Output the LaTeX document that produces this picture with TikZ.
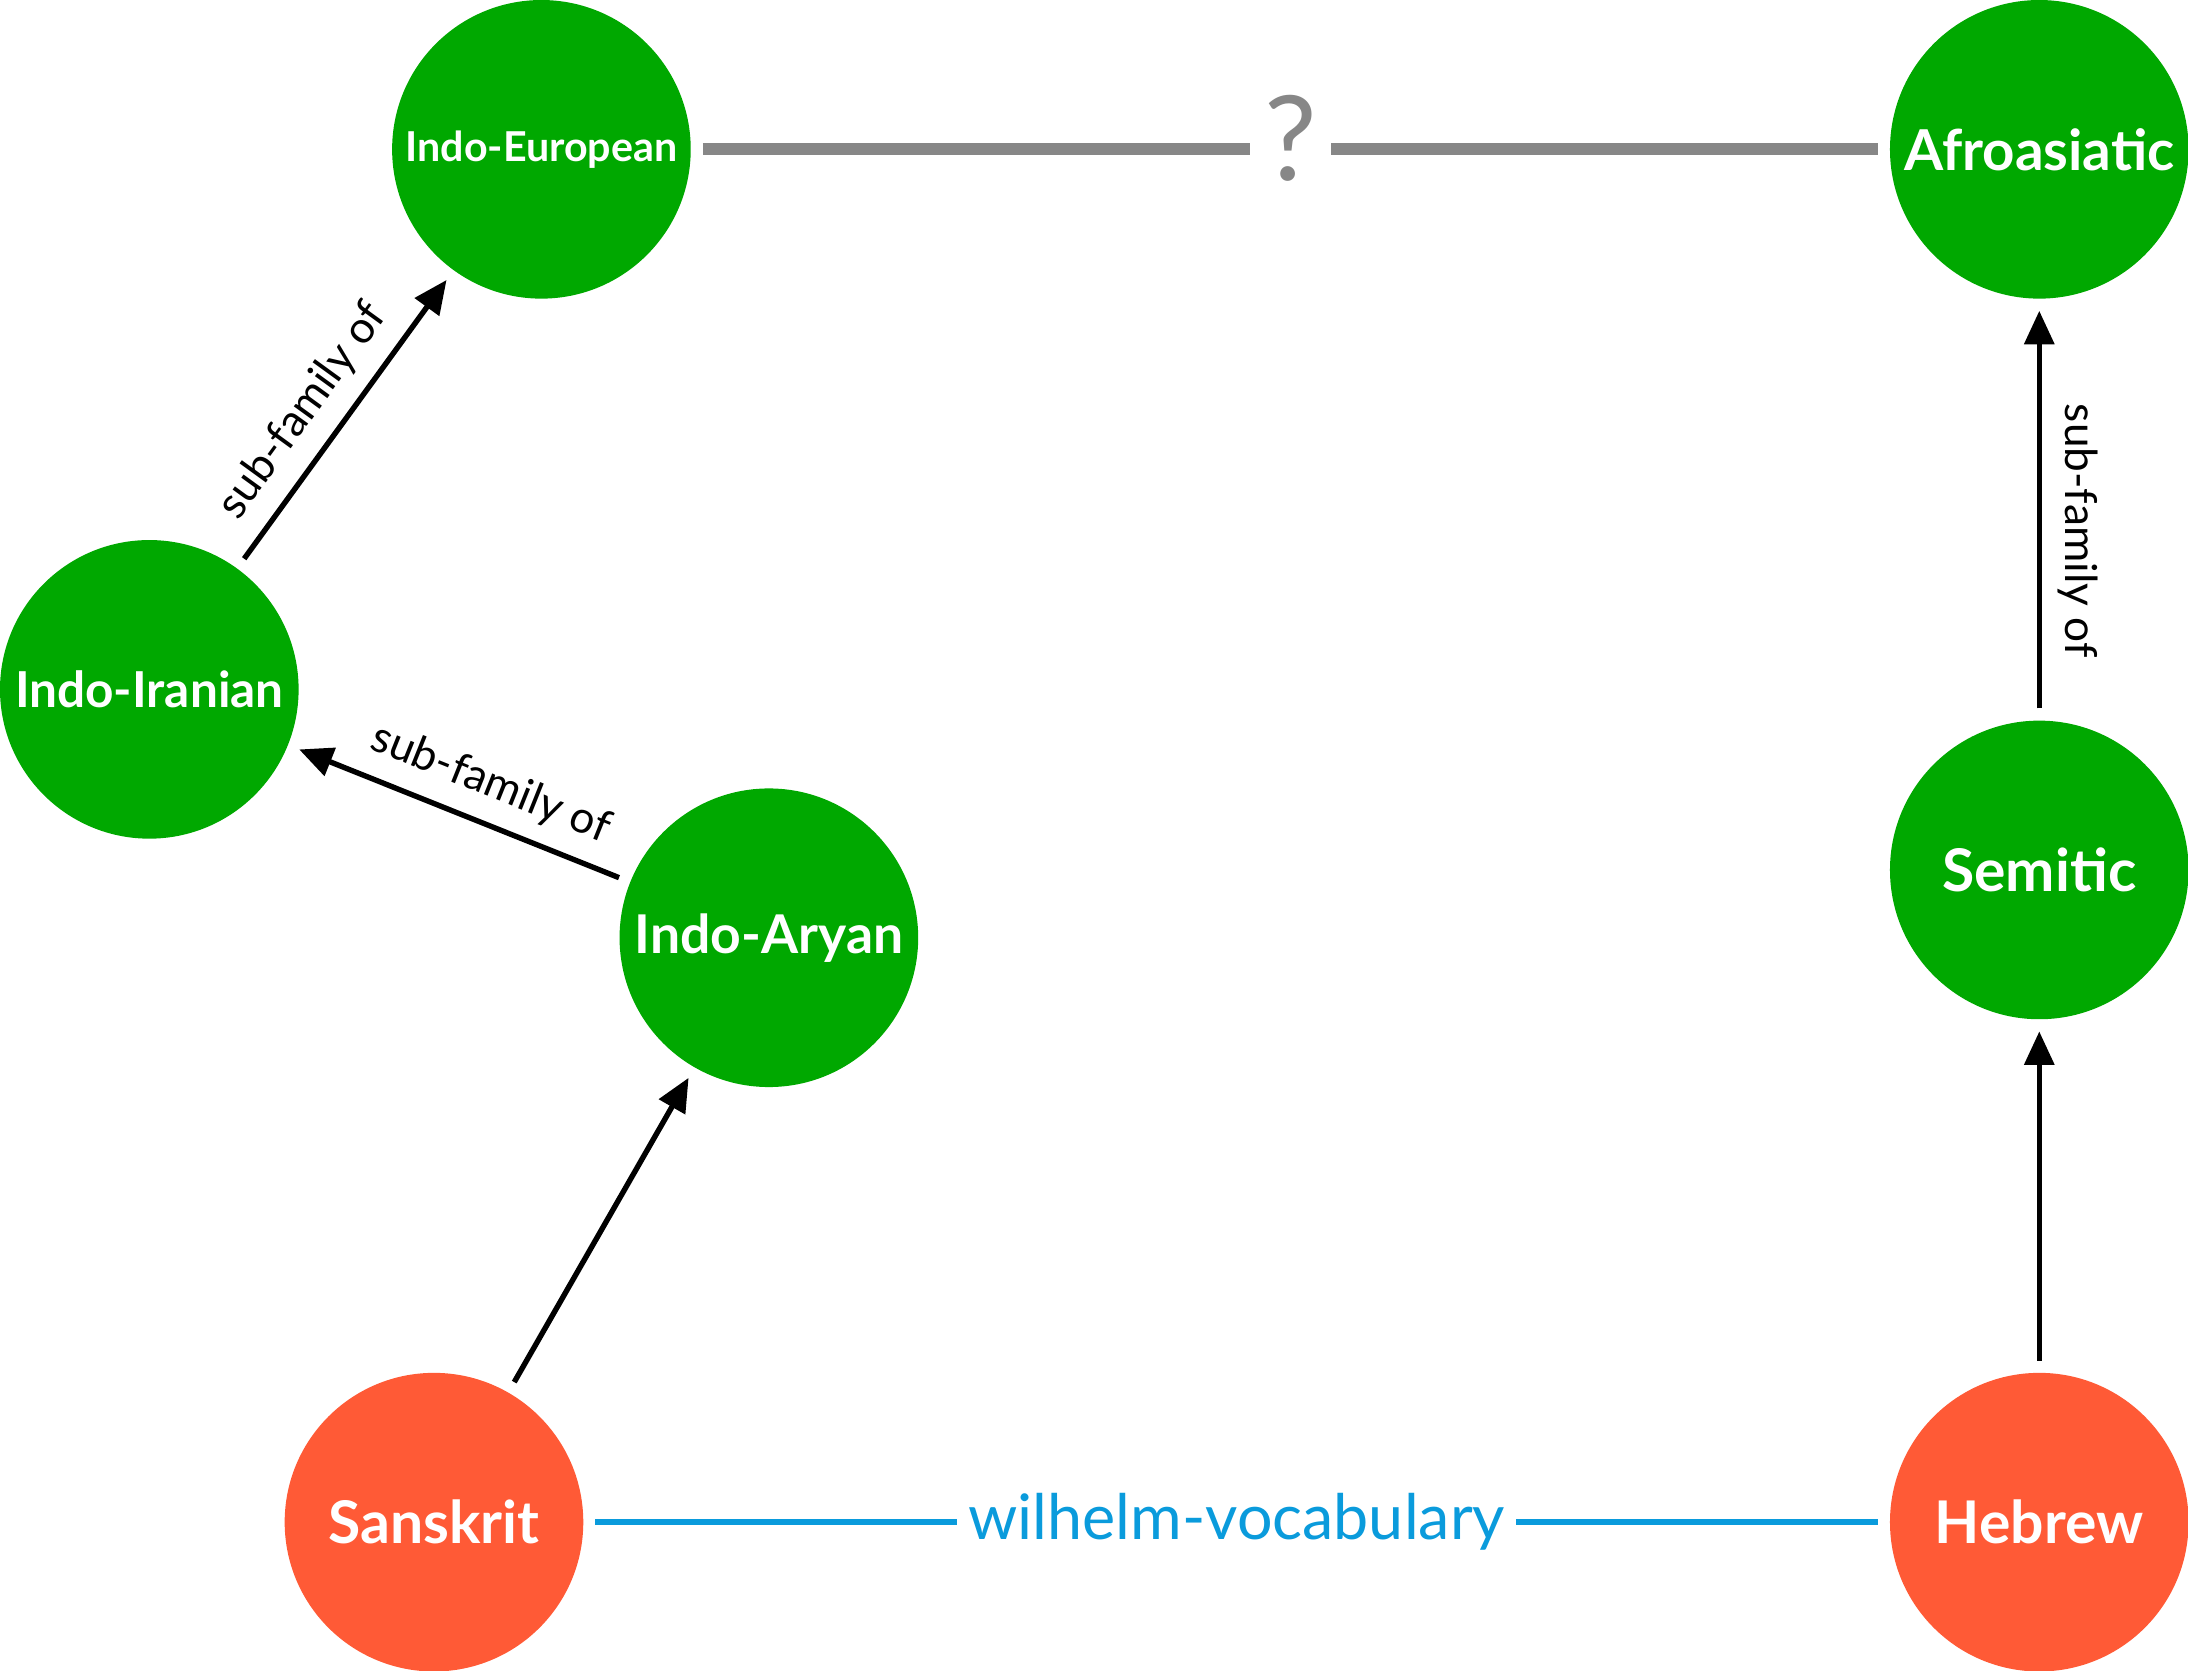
\documentclass[tikz,border=0pt]{standalone}
\usepackage{fontspec}
\setmainfont{Lato}
\usetikzlibrary{positioning, arrows.meta}
\definecolor{famgreen}{HTML}{00A800}
\definecolor{langred}{HTML}{FF5A36}
\definecolor{vocblue}{HTML}{0A9BDC}
\definecolor{unkgray}{HTML}{878787}

\begin{document}
\begin{tikzpicture}[
    family/.style={circle, fill=famgreen, text=white, minimum size=2.14cm, inner sep=0pt, font=\bfseries\fontsize{12}{14}\selectfont},
    language/.style={family, fill=langred},
    arrow/.style={-{Triangle[length=0.24cm, width=0.21cm]}, line width=1.1pt, shorten <=0.08cm, shorten >=0.08cm},
    relation/.style={font=\fontsize{9}{11}\selectfont, pos=0.45},
    unknown/.style={draw=unkgray, line width=2.5pt, shorten <=0.08cm, shorten >=0.08cm},
    vocabulary/.style={draw=vocblue, line width=1.1pt, shorten <=0.08cm, shorten >=0.08cm}
]
\useasboundingbox (0,0) rectangle (15.68,-11.97);

\node[family, font=\bfseries\fontsize{8.4}{10}\selectfont] (ie) at (3.88,-1.07) {Indo-European};
\node[family, right=8.58cm of ie, font=\bfseries\fontsize{11.5}{13}\selectfont] (afro) {Afroasiatic};
\node[family, font=\bfseries\fontsize{10.1}{12}\selectfont] (iranian) at (1.07,-4.94) {Indo-Iranian};
\node[family, font=\bfseries\fontsize{10.9}{12}\selectfont] (aryan) at (5.51,-6.72) {Indo-Aryan};
\node[family, below=3.01cm of afro] (semitic) {Semitic};
\node[language, below=2.52cm of semitic] (hebrew) {Hebrew};
\node[language, left=9.35cm of hebrew] (sanskrit) {Sanskrit};

\draw[arrow] (iranian) -- node[relation, sloped, above] {sub-family of} (ie);
\draw[arrow] (aryan) -- node[relation, sloped, above] {sub-family of} (iranian);
\draw[arrow] (sanskrit) -- (aryan);
\draw[arrow] (semitic) -- node[relation, rotate=-90, anchor=south] {sub-family of} (afro);
\draw[arrow] (hebrew) -- (semitic);

\draw[unknown] (ie) -- node[fill=white, text=unkgray, inner xsep=0.1cm, yshift=0.08cm, font=\fontsize{24}{26}\selectfont] {?} (afro);
\draw[vocabulary] (sanskrit) -- node[fill=white, text=vocblue, inner xsep=0.08cm, font=\fontsize{12.8}{15}\selectfont] {wilhelm-vocabulary} (hebrew);

\end{tikzpicture}
\end{document}
